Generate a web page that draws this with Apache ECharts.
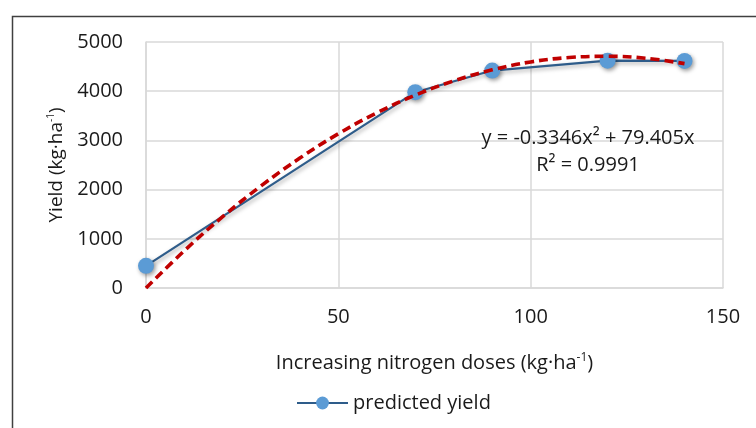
<!DOCTYPE html>
<html>
<head>
<meta charset="utf-8">
<script src="https://cdn.jsdelivr.net/npm/echarts@6/dist/echarts.min.js"></script>
<style>html,body{margin:0;padding:0;background:#fff;}#c{width:756px;height:428px;}</style>
</head>
<body>
<div id="c"></div>
<script>
// Observed data
const doses = [0, 70, 90, 120, 140];
const predictedYield = [450, 3980, 4420, 4620, 4615];
// Polynomial trendline
const trendX = [0, 10, 20, 30, 40, 50, 60, 70, 80, 90, 100, 110, 120, 130, 140];
const trendY = [0, 760, 1455, 2080, 2640, 3135, 3560, 3920, 4210, 4435, 4595, 4685, 4710, 4670, 4560];
const xTicks = [0, 50, 100, 150];
const yTicks = [0, 1000, 2000, 3000, 4000, 5000];
const equationText = 'y = -0.3346x² + 79.405x';
const r2Text = 'R² = 0.9991';

const FONT = '"Open Sans", sans-serif';
const TXT = '#1a1a1a';
const chart = echarts.init(document.getElementById('c'), null, {renderer: 'canvas'});
chart.setOption({
  animation: false,
  backgroundColor: '#fff',
  grid: {left: 146, right: 33, top: 42, bottom: 140},
  xAxis: {
    type: 'value', min: xTicks[0], max: xTicks[xTicks.length - 1], interval: 50,
    axisLine: {show: true, lineStyle: {color: '#D9D9D9', width: 1.5}},
    axisTick: {show: false},
    splitLine: {show: true, lineStyle: {color: '#D9D9D9', width: 1.5}},
    axisLabel: {color: TXT, fontFamily: FONT, fontSize: 20, margin: 19, formatter: v => String(v)},
    name: '{a|Increasing nitrogen doses (kg·ha}{s|-1}{a|)}',
    nameLocation: 'middle', nameGap: 64,
    nameTextStyle: {
      rich: {
        a: {color: TXT, fontFamily: FONT, fontSize: 20},
        s: {color: TXT, fontFamily: FONT, fontSize: 12, padding: [0, 0, 10, 0]}
      }
    }
  },
  yAxis: {
    type: 'value', min: yTicks[0], max: yTicks[yTicks.length - 1], interval: 1000,
    axisLine: {show: true, lineStyle: {color: '#D9D9D9', width: 1.5}},
    axisTick: {show: false},
    splitLine: {show: true, lineStyle: {color: '#D9D9D9', width: 1.5}},
    axisLabel: {color: TXT, fontFamily: FONT, fontSize: 20, margin: 23, formatter: v => String(v)},
    name: '{a|Yield (kg·ha}{s|-1}{a|)}',
    nameLocation: 'middle', nameGap: 78, nameRotate: 90,
    nameTextStyle: {
      rich: {
        a: {color: TXT, fontFamily: FONT, fontSize: 19},
        s: {color: TXT, fontFamily: FONT, fontSize: 10, padding: [0, 0, 12, 0]}
      }
    }
  },
  legend: {
    data: ['predicted yield'],
    left: 296, top: 393, padding: 0,
    itemWidth: 51, itemHeight: 16, itemGap: 10,
    textStyle: {color: TXT, fontFamily: FONT, fontSize: 20, padding: [0, 0, 0, 0]}
  },
  series: [
    {
      name: 'predicted yield', type: 'line',
      data: doses.map((d, i) => [d, predictedYield[i]]),
      symbol: 'circle', symbolSize: 16,
      lineStyle: {color: '#2E5C8A', width: 2.2, shadowColor: 'rgba(0,0,0,0.35)', shadowBlur: 4, shadowOffsetX: 1.5, shadowOffsetY: 2},
      itemStyle: {color: '#5B9BD5', shadowColor: 'rgba(0,0,0,0.4)', shadowBlur: 4, shadowOffsetX: 1.5, shadowOffsetY: 2},
      z: 2
    },
    {
      name: 'trend', type: 'line',
      data: trendX.map((x, i) => [x, trendY[i]]),
      symbol: 'none', smooth: 0.4,
      lineStyle: {color: '#C00000', width: 3.6, type: [9, 5], cap: 'butt'},
      z: 3
    }
  ],
  graphic: [
    {type: 'rect', left: 10, top: 14, shape: {width: 800, height: 500}, silent: true, z: -10,
      style: {fill: 'none', stroke: '#404040', lineWidth: 1.5}},
    {type: 'text', x: 588, y: 138, silent: true, z: 10,
      style: {text: equationText, fill: TXT, font: '20px "Open Sans", sans-serif', align: 'center', verticalAlign: 'middle'}},
    {type: 'text', x: 588, y: 165, silent: true, z: 10,
      style: {text: r2Text, fill: TXT, font: '20px "Open Sans", sans-serif', align: 'center', verticalAlign: 'middle'}}
  ]
});
</script>
</body>
</html>
